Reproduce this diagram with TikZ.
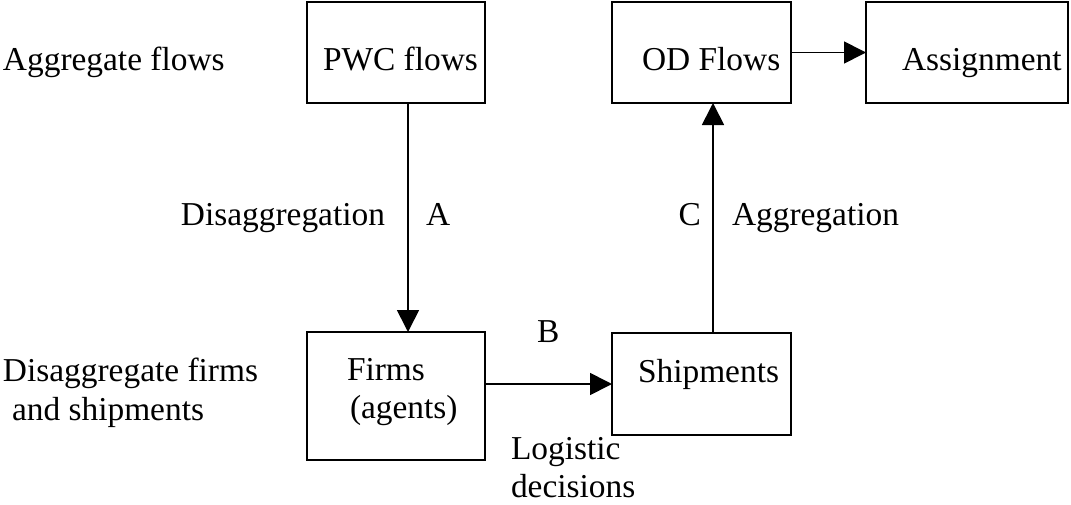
\documentclass[tikz,border=0pt]{standalone}
\usepackage{fontspec}
\setmainfont{Liberation Serif}
\usetikzlibrary{arrows.meta}
\begin{document}
\begin{tikzpicture}[x=0.5pt, y=-0.5pt, inner sep=0pt, outer sep=0pt,
    every node/.style={font=\fontsize{16.7}{19.5}\selectfont},
    box/.style={draw, line width=1pt, minimum height=50.5pt},
    lbl/.style={anchor=base west},
    lbl_r/.style={anchor=base east},
    flow/.style={line width=0.85pt, -{Triangle[length=11pt, width=11pt]}}]
  \useasboundingbox (0,0) rectangle (1071,504);
    % 
  % level labels
  \node[lbl] (lvl_aggr) at (3,70) {Aggregate flows};
  \node[lbl] (lvl_disaggr) at (3,381) {Disaggregate firms};
  \node[lbl] (lvl_disaggr_2) at (12,420) {and shipments};
  % boxes
  \node[box, minimum width=89pt] (pwc_box) at (396,52.5) {};
  \node[box, minimum width=89.5pt] (od_box) at (701.5,52.5) {};
  \node[box, minimum width=101pt] (assign_box) at (967,52.5) {};
  \node[box, minimum width=89pt, minimum height=64pt] (firms_box) at (396,396) {};
  \node[box, minimum width=89.5pt, minimum height=51pt] (ship_box) at (701.5,384) {};
  % box texts
  \node[lbl] (pwc_txt) at (323,70) {PWC flows};
  \node[lbl] (od_txt) at (642,70) {OD Flows};
  \node[lbl] (assign_txt) at (902,70) {Assignment};
  \node[lbl] (firms_txt) at (347,380) {Firms};
  \node[lbl] (agents_txt) at (350,418) {(agents)};
  \node[lbl] (ship_txt) at (638,382) {Shipments};
  % flows
  \draw[flow] ([xshift=6pt]pwc_box.south) -- ([xshift=6pt]firms_box.north);
  \draw[flow] (firms_box.east |- ship_box.west) -- (ship_box.west);
  \draw[flow] ([xshift=5.75pt]ship_box.north) -- ([xshift=5.75pt]od_box.south);
  \draw[flow] (od_box.east) -- (assign_box.west);
  % flow labels
  \node[lbl_r] (disagg_lbl) at (385,225) {Disaggregation};
  \node[lbl] (a_lbl) at (426,225) {A};
  \node[lbl] (b_lbl) at (537,342) {B};
  \node[lbl_r] (c_lbl) at (701,225) {C};
  \node[lbl] (agg_lbl) at (732,225) {Aggregation};
  \node[lbl] (logistic_lbl) at (511,459) {Logistic};
  \node[lbl] (decisions_lbl) at (511,497) {decisions};

\end{tikzpicture}
\end{document}
